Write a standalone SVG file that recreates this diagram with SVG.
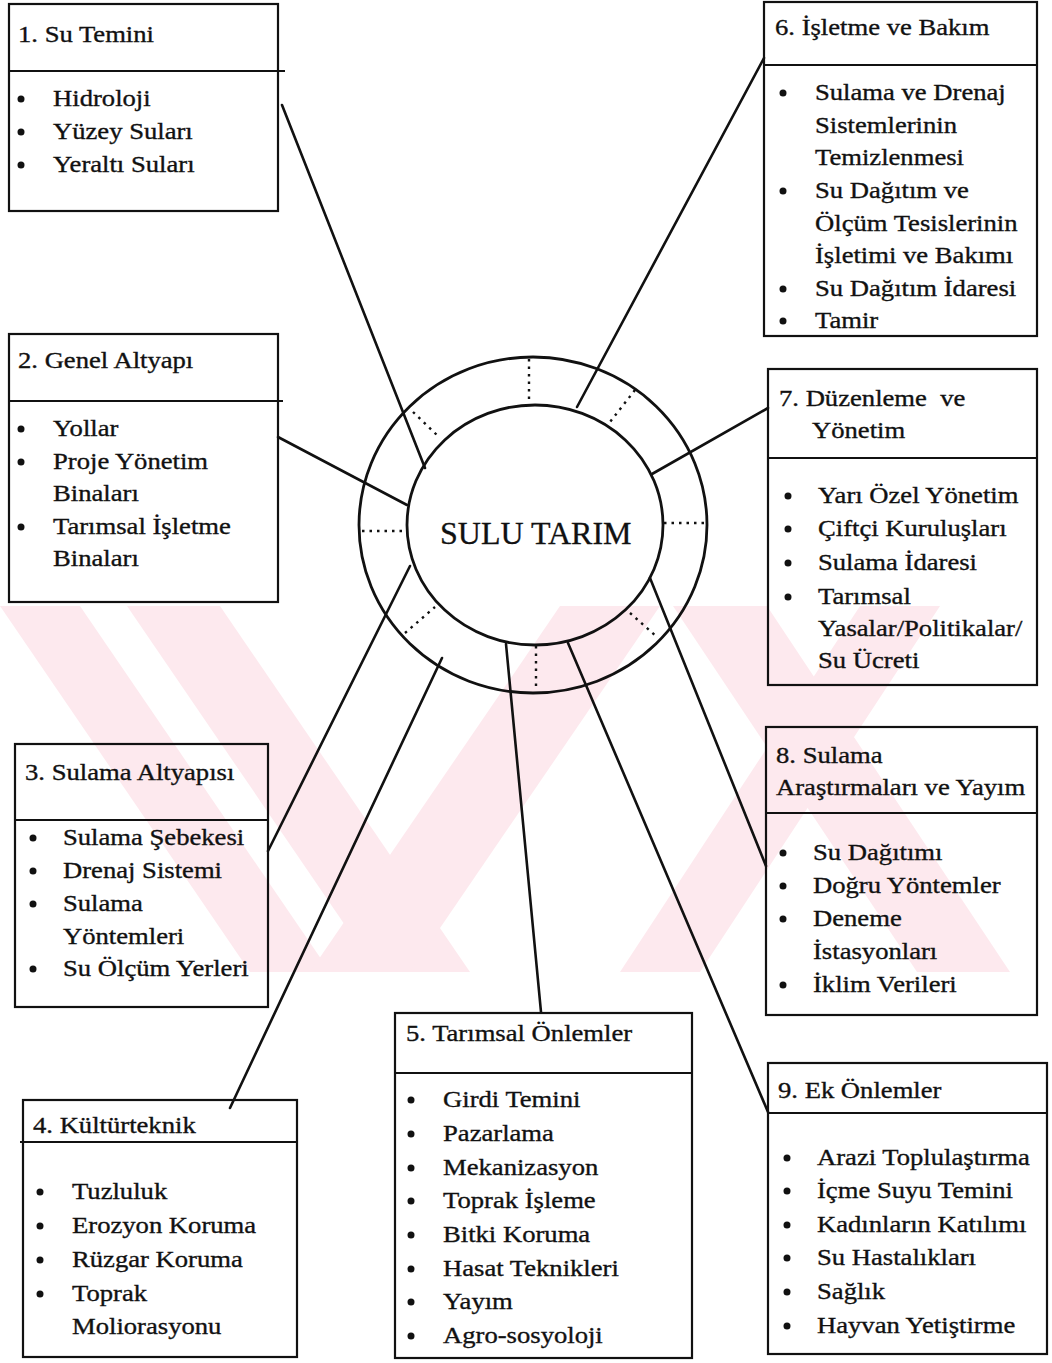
<svg xmlns="http://www.w3.org/2000/svg" width="1052" height="1363" viewBox="0 0 1052 1363">
  <style>
    .box { fill: none; stroke: #111; stroke-width: 2.2; }
    .div { stroke: #111; stroke-width: 2.2; }
    .t { font-family: "Liberation Serif", "Times New Roman", serif; font-size: 24px; fill: #111; stroke: #111; stroke-width: 0.35; }
    .big { font-family: "Liberation Serif", "Times New Roman", serif; font-size: 32px; fill: #111; stroke: #111; stroke-width: 0.3; }
    .dot { fill: #111; }
    .conn { stroke: #111; stroke-width: 2.6; fill: none; stroke-linecap: round; }
    .ring { fill: none; stroke: #111; stroke-width: 2.8; }
    .dash { stroke: #111; stroke-width: 2.4; stroke-dasharray: 2.5 5; fill: none; }
    .wm { fill: #fde9ee; }
  </style>

  <rect width="1052" height="1363" fill="#fff"/>

  <!-- faint background emblem -->
  <g id="watermark">
    <polygon class="wm" points="0,606 80,606 330,972 250,972"/>
    <polygon class="wm" points="127,606 220,606 470,972 377,972"/>
    <polygon class="wm" points="560,606 660,606 410,972 310,972"/>
    <polygon class="wm" points="673,606 767,606 1010,972 917,972"/>
    <polygon class="wm" points="860,606 940,606 700,972 620,972"/>
  </g>

  <!-- connectors from the hub to each topic box -->
  <g id="connectors">
    <line class="conn" x1="282" y1="105" x2="425" y2="468"/>
    <line class="conn" x1="278" y1="437" x2="407" y2="505"/>
    <line class="conn" x1="268" y1="851" x2="410" y2="566"/>
    <line class="conn" x1="230" y1="1108" x2="442" y2="658"/>
    <line class="conn" x1="506" y1="644" x2="541" y2="1012"/>
    <line class="conn" x1="764" y1="58" x2="577" y2="407"/>
    <line class="conn" x1="768" y1="408" x2="652" y2="474"/>
    <line class="conn" x1="766" y1="866" x2="650" y2="578"/>
    <line class="conn" x1="768" y1="1112" x2="568" y2="643"/>
  </g>

  <!-- central hub: outer ring, inner disc and dotted ring partitions -->
  <g id="hub">
    <ellipse class="ring" cx="533" cy="525" rx="174" ry="168"/>
    <ellipse class="ring" cx="535" cy="525" rx="128" ry="120"/>
    <line class="dash" x1="529" y1="359" x2="529" y2="404"/>
    <line class="dash" x1="413" y1="412" x2="438" y2="436"/>
    <line class="dash" x1="635" y1="390" x2="610" y2="422"/>
    <line class="dash" x1="362" y1="531" x2="408" y2="531"/>
    <line class="dash" x1="664" y1="523" x2="707" y2="523"/>
    <line class="dash" x1="405" y1="633" x2="435" y2="607"/>
    <line class="dash" x1="630" y1="613" x2="657" y2="637"/>
    <line class="dash" x1="536" y1="646" x2="536" y2="690"/>
    <text class="big" x="440" y="544">SULU TARIM</text>
  </g>

  <!-- 1 -->
  <g id="node1">
    <rect class="box" x="9" y="4" width="269" height="207"/>
    <line class="div" x1="9" y1="71" x2="285" y2="71"/>
    <text class="t" transform="translate(18,42) scale(1.11,1)">1. Su Temini</text>
    <circle class="dot" cx="21" cy="99" r="3.5"/>
    <circle class="dot" cx="21" cy="132" r="3.5"/>
    <circle class="dot" cx="21" cy="165" r="3.5"/>
    <text class="t" transform="translate(53,106) scale(1.11,1)">Hidroloji</text>
    <text class="t" transform="translate(53,139) scale(1.11,1)">Yüzey Suları</text>
    <text class="t" transform="translate(53,172) scale(1.11,1)">Yeraltı Suları</text>
  </g>

  <!-- 2 -->
  <g id="node2">
    <rect class="box" x="9" y="334" width="269" height="268"/>
    <line class="div" x1="9" y1="401" x2="283" y2="401"/>
    <text class="t" transform="translate(18,368) scale(1.11,1)">2. Genel Altyapı</text>
    <circle class="dot" cx="21" cy="429" r="3.5"/>
    <circle class="dot" cx="21" cy="462" r="3.5"/>
    <circle class="dot" cx="21" cy="527" r="3.5"/>
    <text class="t" transform="translate(53,436) scale(1.11,1)">Yollar</text>
    <text class="t" transform="translate(53,469) scale(1.11,1)">Proje Yönetim</text>
    <text class="t" transform="translate(53,501) scale(1.11,1)">Binaları</text>
    <text class="t" transform="translate(53,534) scale(1.11,1)">Tarımsal İşletme</text>
    <text class="t" transform="translate(53,566) scale(1.11,1)">Binaları</text>
  </g>

  <!-- 3 -->
  <g id="node3">
    <rect class="box" x="15" y="744" width="253" height="263"/>
    <line class="div" x1="15" y1="820" x2="268" y2="820"/>
    <text class="t" transform="translate(25,780) scale(1.11,1)">3. Sulama Altyapısı</text>
    <circle class="dot" cx="33" cy="838" r="3.5"/>
    <circle class="dot" cx="33" cy="871" r="3.5"/>
    <circle class="dot" cx="33" cy="904" r="3.5"/>
    <circle class="dot" cx="33" cy="969" r="3.5"/>
    <text class="t" transform="translate(63,845) scale(1.11,1)">Sulama Şebekesi</text>
    <text class="t" transform="translate(63,878) scale(1.11,1)">Drenaj Sistemi</text>
    <text class="t" transform="translate(63,911) scale(1.11,1)">Sulama</text>
    <text class="t" transform="translate(63,944) scale(1.11,1)">Yöntemleri</text>
    <text class="t" transform="translate(63,976) scale(1.11,1)">Su Ölçüm Yerleri</text>
  </g>

  <!-- 4 -->
  <g id="node4">
    <rect class="box" x="23" y="1100" width="274" height="257"/>
    <line class="div" x1="20" y1="1142" x2="297" y2="1142"/>
    <text class="t" transform="translate(33,1133) scale(1.11,1)">4. Kültürteknik</text>
    <circle class="dot" cx="40" cy="1192" r="3.5"/>
    <circle class="dot" cx="40" cy="1226" r="3.5"/>
    <circle class="dot" cx="40" cy="1260" r="3.5"/>
    <circle class="dot" cx="40" cy="1294" r="3.5"/>
    <text class="t" transform="translate(72,1199) scale(1.11,1)">Tuzluluk</text>
    <text class="t" transform="translate(72,1233) scale(1.11,1)">Erozyon Koruma</text>
    <text class="t" transform="translate(72,1267) scale(1.11,1)">Rüzgar Koruma</text>
    <text class="t" transform="translate(72,1301) scale(1.11,1)">Toprak</text>
    <text class="t" transform="translate(72,1334) scale(1.11,1)">Moliorasyonu</text>
  </g>

  <!-- 5 -->
  <g id="node5">
    <rect class="box" x="395" y="1013" width="297" height="345"/>
    <line class="div" x1="395" y1="1073" x2="692" y2="1073"/>
    <text class="t" transform="translate(406,1041) scale(1.11,1)">5. Tarımsal Önlemler</text>
    <circle class="dot" cx="411" cy="1100" r="3.5"/>
    <circle class="dot" cx="411" cy="1134" r="3.5"/>
    <circle class="dot" cx="411" cy="1168" r="3.5"/>
    <circle class="dot" cx="411" cy="1201" r="3.5"/>
    <circle class="dot" cx="411" cy="1235" r="3.5"/>
    <circle class="dot" cx="411" cy="1269" r="3.5"/>
    <circle class="dot" cx="411" cy="1302" r="3.5"/>
    <circle class="dot" cx="411" cy="1336" r="3.5"/>
    <text class="t" transform="translate(443,1107) scale(1.11,1)">Girdi Temini</text>
    <text class="t" transform="translate(443,1141) scale(1.11,1)">Pazarlama</text>
    <text class="t" transform="translate(443,1175) scale(1.11,1)">Mekanizasyon</text>
    <text class="t" transform="translate(443,1208) scale(1.11,1)">Toprak İşleme</text>
    <text class="t" transform="translate(443,1242) scale(1.11,1)">Bitki Koruma</text>
    <text class="t" transform="translate(443,1276) scale(1.11,1)">Hasat Teknikleri</text>
    <text class="t" transform="translate(443,1309) scale(1.11,1)">Yayım</text>
    <text class="t" transform="translate(443,1343) scale(1.11,1)">Agro-sosyoloji</text>
  </g>

  <!-- 6 -->
  <g id="node6">
    <rect class="box" x="764" y="2" width="273" height="334"/>
    <line class="div" x1="764" y1="65" x2="1037" y2="65"/>
    <text class="t" transform="translate(775,35) scale(1.11,1)">6. İşletme ve Bakım</text>
    <circle class="dot" cx="783" cy="93" r="3.5"/>
    <circle class="dot" cx="783" cy="191" r="3.5"/>
    <circle class="dot" cx="783" cy="289" r="3.5"/>
    <circle class="dot" cx="783" cy="321" r="3.5"/>
    <text class="t" transform="translate(815,100) scale(1.11,1)">Sulama ve Drenaj</text>
    <text class="t" transform="translate(815,133) scale(1.11,1)">Sistemlerinin</text>
    <text class="t" transform="translate(815,165) scale(1.11,1)">Temizlenmesi</text>
    <text class="t" transform="translate(815,198) scale(1.11,1)">Su Dağıtım ve</text>
    <text class="t" transform="translate(815,231) scale(1.11,1)">Ölçüm Tesislerinin</text>
    <text class="t" transform="translate(815,263) scale(1.11,1)">İşletimi ve Bakımı</text>
    <text class="t" transform="translate(815,296) scale(1.11,1)">Su Dağıtım İdaresi</text>
    <text class="t" transform="translate(815,328) scale(1.11,1)">Tamir</text>
  </g>

  <!-- 7 -->
  <g id="node7">
    <rect class="box" x="768" y="369" width="269" height="316"/>
    <line class="div" x1="768" y1="458" x2="1037" y2="458"/>
    <text class="t" transform="translate(779,406) scale(1.11,1)">7. Düzenleme&#160; ve</text>
    <text class="t" transform="translate(812,438) scale(1.11,1)">Yönetim</text>
    <circle class="dot" cx="788" cy="496" r="3.5"/>
    <circle class="dot" cx="788" cy="529" r="3.5"/>
    <circle class="dot" cx="788" cy="563" r="3.5"/>
    <circle class="dot" cx="788" cy="597" r="3.5"/>
    <text class="t" transform="translate(818,503) scale(1.11,1)">Yarı Özel Yönetim</text>
    <text class="t" transform="translate(818,536) scale(1.11,1)">Çiftçi Kuruluşları</text>
    <text class="t" transform="translate(818,570) scale(1.11,1)">Sulama İdaresi</text>
    <text class="t" transform="translate(818,604) scale(1.11,1)">Tarımsal</text>
    <text class="t" transform="translate(818,636) scale(1.11,1)">Yasalar/Politikalar/</text>
    <text class="t" transform="translate(818,668) scale(1.11,1)">Su Ücreti</text>
  </g>

  <!-- 8 -->
  <g id="node8">
    <rect class="box" x="766" y="727" width="271" height="288"/>
    <line class="div" x1="766" y1="813" x2="1037" y2="813"/>
    <text class="t" transform="translate(776,763) scale(1.11,1)">8. Sulama</text>
    <text class="t" transform="translate(776,795) scale(1.11,1)">Araştırmaları ve Yayım</text>
    <circle class="dot" cx="783" cy="853" r="3.5"/>
    <circle class="dot" cx="783" cy="886" r="3.5"/>
    <circle class="dot" cx="783" cy="919" r="3.5"/>
    <circle class="dot" cx="783" cy="985" r="3.5"/>
    <text class="t" transform="translate(813,860) scale(1.11,1)">Su Dağıtımı</text>
    <text class="t" transform="translate(813,893) scale(1.11,1)">Doğru Yöntemler</text>
    <text class="t" transform="translate(813,926) scale(1.11,1)">Deneme</text>
    <text class="t" transform="translate(813,959) scale(1.11,1)">İstasyonları</text>
    <text class="t" transform="translate(813,992) scale(1.11,1)">İklim Verileri</text>
  </g>

  <!-- 9 -->
  <g id="node9">
    <rect class="box" x="768" y="1063" width="279" height="291"/>
    <line class="div" x1="768" y1="1113" x2="1047" y2="1113"/>
    <text class="t" transform="translate(778,1098) scale(1.11,1)">9. Ek Önlemler</text>
    <circle class="dot" cx="787" cy="1158" r="3.5"/>
    <circle class="dot" cx="787" cy="1191" r="3.5"/>
    <circle class="dot" cx="787" cy="1225" r="3.5"/>
    <circle class="dot" cx="787" cy="1258" r="3.5"/>
    <circle class="dot" cx="787" cy="1292" r="3.5"/>
    <circle class="dot" cx="787" cy="1326" r="3.5"/>
    <text class="t" transform="translate(817,1165) scale(1.11,1)">Arazi Toplulaştırma</text>
    <text class="t" transform="translate(817,1198) scale(1.11,1)">İçme Suyu Temini</text>
    <text class="t" transform="translate(817,1232) scale(1.11,1)">Kadınların Katılımı</text>
    <text class="t" transform="translate(817,1265) scale(1.11,1)">Su Hastalıkları</text>
    <text class="t" transform="translate(817,1299) scale(1.11,1)">Sağlık</text>
    <text class="t" transform="translate(817,1333) scale(1.11,1)">Hayvan Yetiştirme</text>
  </g>
</svg>
